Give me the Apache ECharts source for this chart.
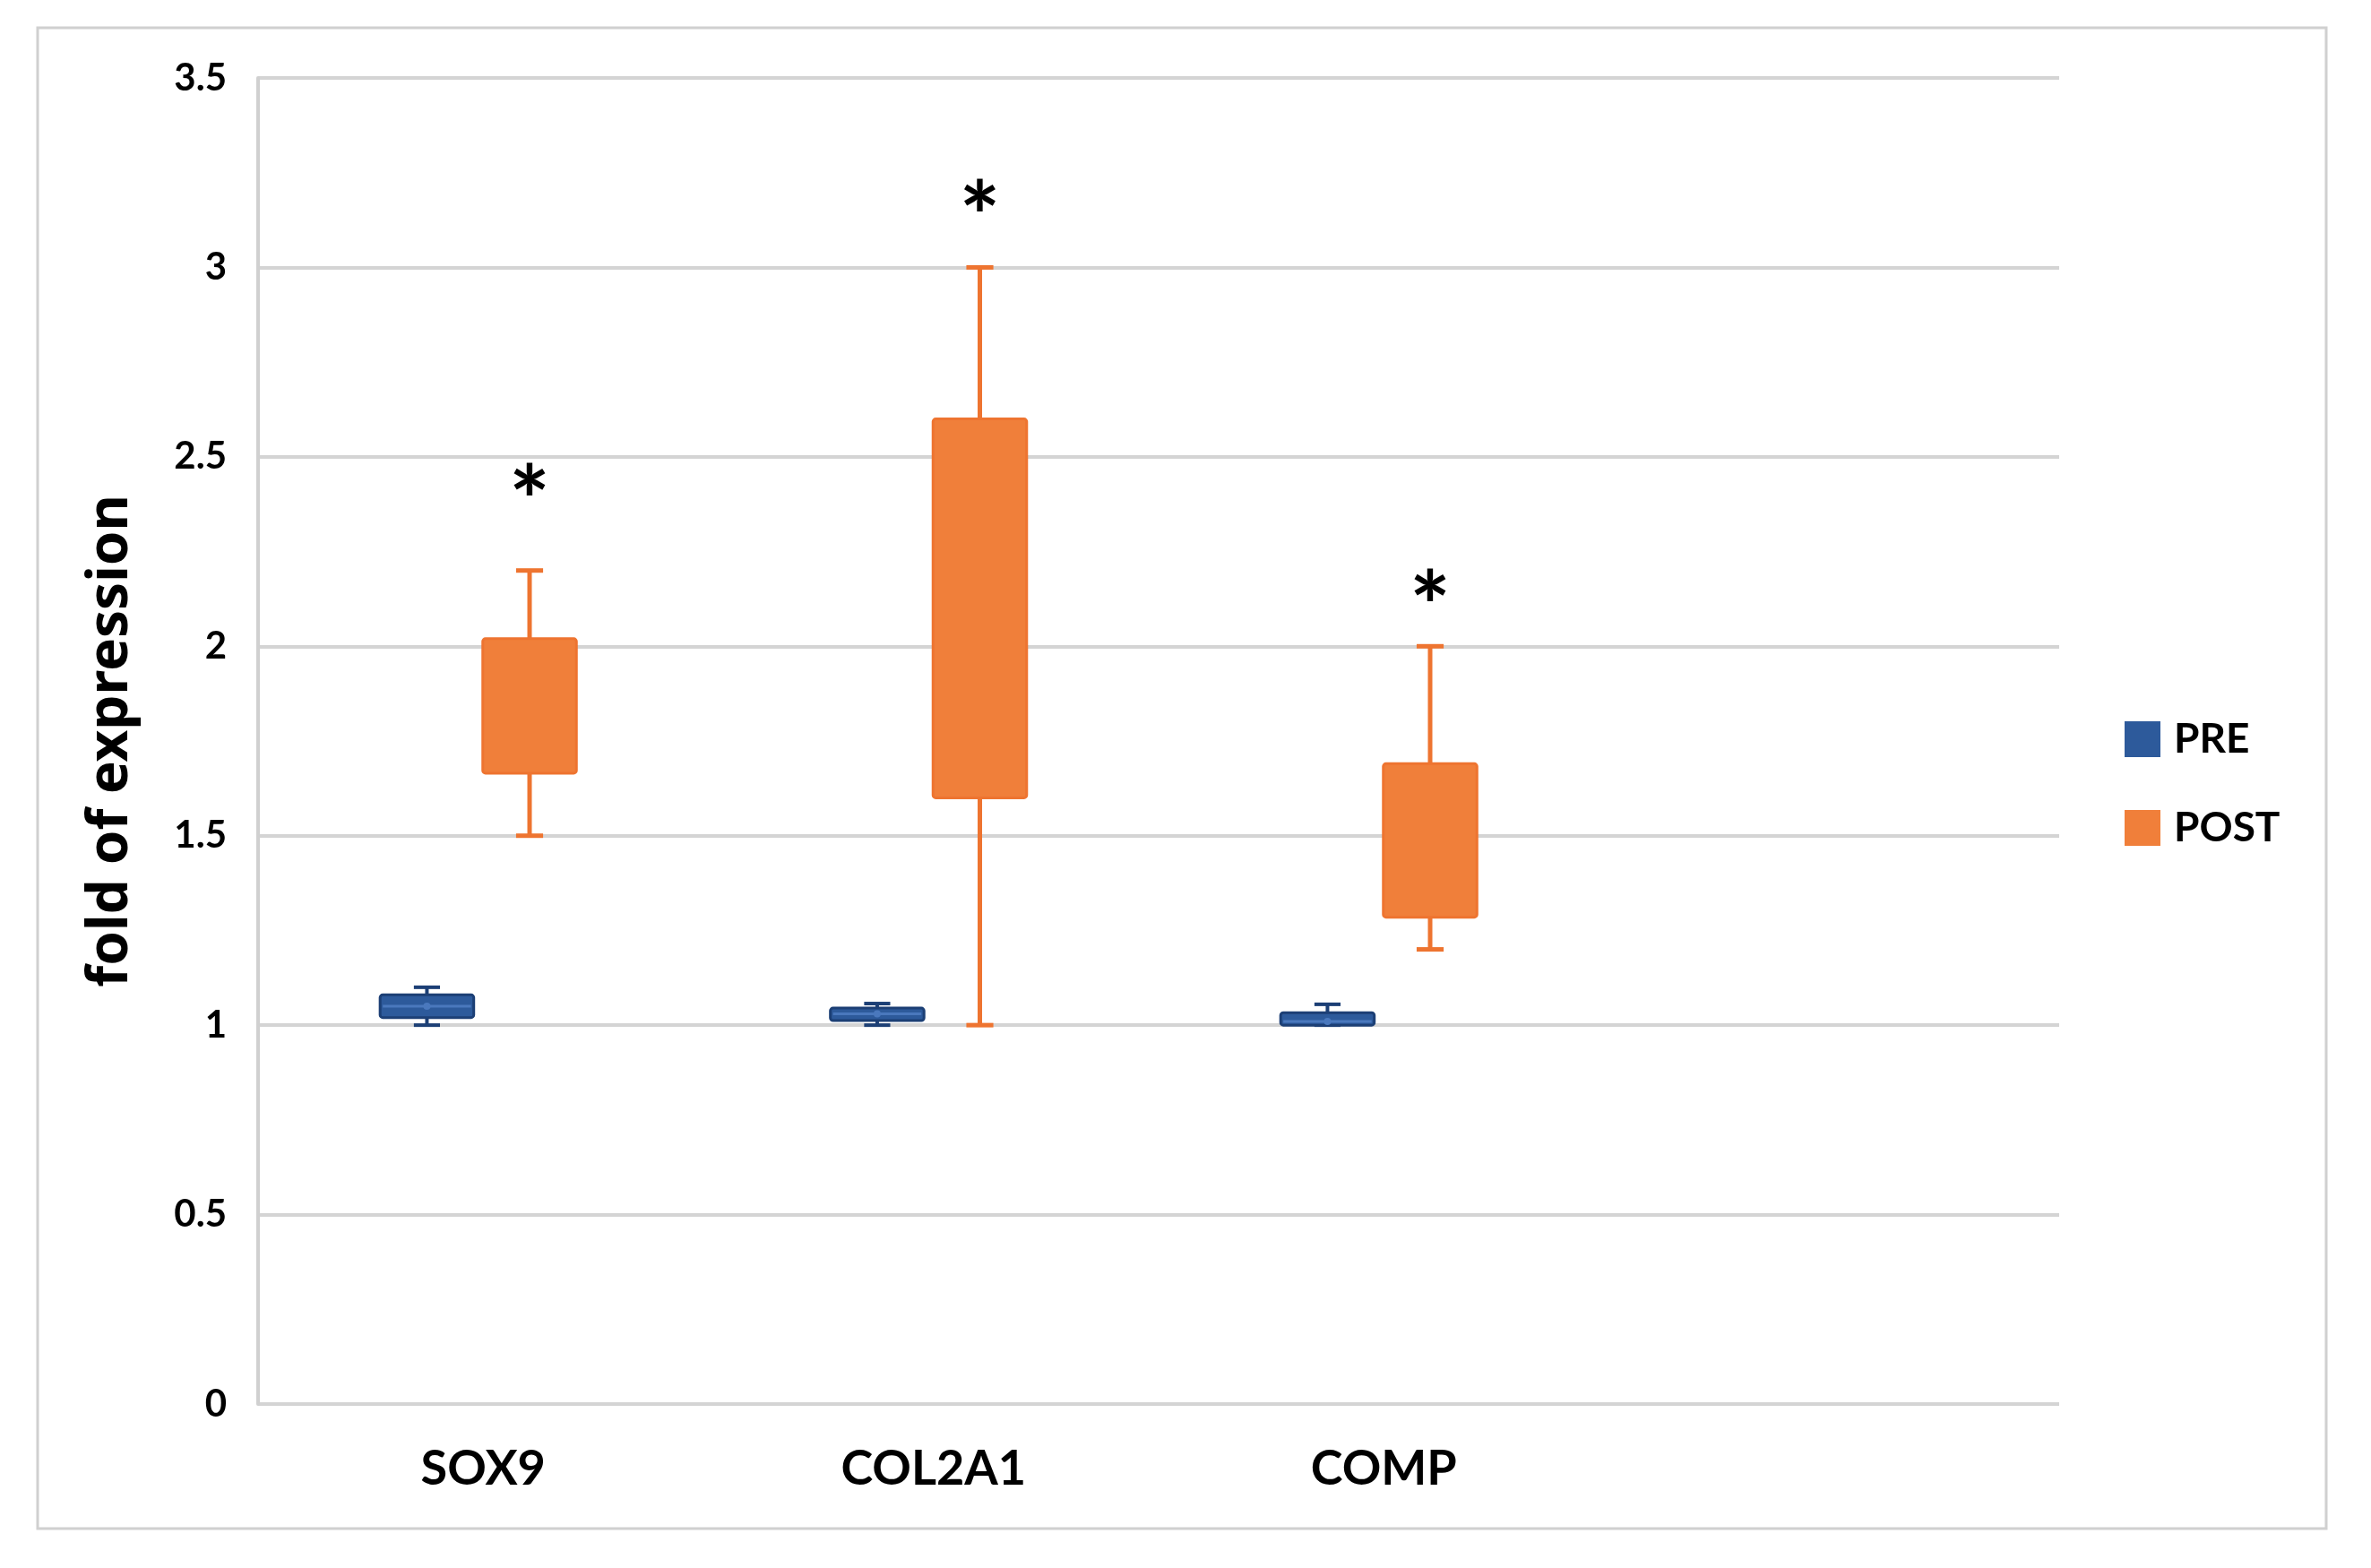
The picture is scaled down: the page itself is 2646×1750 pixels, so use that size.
<!DOCTYPE html>
<html>
<head>
<meta charset="utf-8">
<script src="https://cdn.jsdelivr.net/npm/echarts@6/dist/echarts.min.js"></script>
<style>
html,body{margin:0;padding:0;background:#fff;}
#chart{width:2646px;height:1750px;}
</style>
</head>
<body>
<div id="chart"></div>
<script>
// ---- data ----
const categories = ['SOX9', 'COL2A1', 'COMP', ''];
const yTicks = [0, 0.5, 1, 1.5, 2, 2.5, 3, 3.5];
const seriesNames = ['PRE', 'POST'];

const preMin    = [1.00, 1.00, 1.00];
const preQ1     = [1.02, 1.012, 1.00];
const preMedian = [1.05, 1.03, 1.01];
const preQ3     = [1.08, 1.045, 1.033];
const preMax    = [1.10, 1.057, 1.055];

const postMin = [1.50, 1.00, 1.20];
const postQ1  = [1.665, 1.60, 1.285];
const postQ3  = [2.02, 2.60, 1.69];
const postMax = [2.20, 3.00, 2.00];

const starLabel = ['*', '*', '*'];
const starValue = [2.42, 3.17, 2.14];

// ---- build ----
const FONT = 'Lato, "Open Sans", sans-serif';
const STAR_SIZE = 108;

function boxRows(mins, q1s, meds, q3s, maxs) {
  return mins.map((m, i) => [i, m, q1s[i], meds ? meds[i] : null, q3s[i], maxs[i]]);
}

function makeBoxSeries(name, rows, offsetFrac, fill, stroke, medColor, lw, capFrac) {
  return {
    name: name,
    type: 'custom',
    itemStyle: { color: fill },
    encode: { x: 0, y: [1, 2, 4, 5] },
    data: rows,
    z: 3,
    renderItem: function (params, api) {
      const cat = api.value(0);
      const band = api.size([1, 0])[0];
      const cx = api.coord([cat, 0])[0] + offsetFrac * band;
      const w = 0.208 * band;
      const cap = capFrac * band;
      const yMin = api.coord([cat, api.value(1)])[1];
      const yQ1 = api.coord([cat, api.value(2)])[1];
      const yQ3 = api.coord([cat, api.value(4)])[1];
      const yMax = api.coord([cat, api.value(5)])[1];
      const lineStyle = { stroke: stroke, lineWidth: lw };
      const children = [
        { type: 'line', shape: { x1: cx, y1: yMax, x2: cx, y2: yQ3 }, style: lineStyle },
        { type: 'line', shape: { x1: cx, y1: yQ1, x2: cx, y2: yMin }, style: lineStyle },
        { type: 'line', shape: { x1: cx - cap / 2, y1: yMax, x2: cx + cap / 2, y2: yMax }, style: lineStyle },
        { type: 'line', shape: { x1: cx - cap / 2, y1: yMin, x2: cx + cap / 2, y2: yMin }, style: lineStyle },
        { type: 'rect', shape: { x: cx - w / 2, y: yQ3, width: w, height: Math.max(yQ1 - yQ3, 2), r: 3 },
          style: { fill: fill, stroke: stroke, lineWidth: 3 } }
      ];
      const med = api.value(3);
      if (med !== null && !isNaN(med)) {
        const yMed = api.coord([cat, med])[1];
        children.push({ type: 'line', shape: { x1: cx - w / 2 + 3, y1: yMed, x2: cx + w / 2 - 3, y2: yMed },
          style: { stroke: medColor, lineWidth: 3 } });
        children.push({ type: 'circle', shape: { cx: cx, cy: yMed, r: 4 }, style: { fill: medColor } });
      }
      return { type: 'group', children: children };
    }
  };
}

const preRows = boxRows(preMin, preQ1, preMedian, preQ3, preMax);
const postRows = boxRows(postMin, postQ1, null, postQ3, postMax);
const starRows = starValue.map((v, i) => [i, v, starLabel[i]]);

const chart = echarts.init(document.getElementById('chart'), null, { renderer: 'canvas' });

const option = {
  backgroundColor: '#ffffff',
  animation: false,
  graphic: [{
    type: 'rect',
    shape: { x: 42, y: 31, width: 2554, height: 1675 },
    style: { fill: 'none', stroke: '#d0d0d0', lineWidth: 3 },
    silent: true
  }],
  legend: {
    data: seriesNames,
    orient: 'vertical',
    left: 2366,
    top: 797,
    icon: 'rect',
    itemWidth: 40,
    itemHeight: 40,
    itemGap: 53,
    textStyle: { fontFamily: FONT, fontWeight: 'bold', fontSize: 46, color: '#000', padding: [0, 0, 0, 10] }
  },
  grid: { left: 288, right: 348, top: 87, bottom: 183, containLabel: false },
  xAxis: {
    type: 'category',
    data: categories,
    boundaryGap: true,
    axisLine: { show: false },
    axisTick: { show: false },
    splitLine: { show: false },
    axisLabel: { fontFamily: FONT, fontWeight: 'bold', fontSize: 54, color: '#000', margin: 46, interval: 0 }
  },
  yAxis: {
    type: 'value',
    min: 0,
    max: 3.5,
    interval: 0.5,
    name: 'fold of expression',
    nameLocation: 'middle',
    nameRotate: 90,
    nameGap: 133,
    nameTextStyle: { fontFamily: '"Noto Sans", sans-serif', fontWeight: 'bold', fontSize: 62, color: '#000' },
    axisLine: { show: true, lineStyle: { color: '#d0d0d0', width: 4 } },
    axisTick: { show: false },
    splitLine: { show: true, lineStyle: { color: '#d4d4d4', width: 4 } },
    axisLabel: {
      fontFamily: FONT, fontWeight: 'bold', fontSize: 42, color: '#000', margin: 35,
      formatter: function (v) { return String(v); }
    }
  },
  series: [
    makeBoxSeries('PRE', preRows, -0.125, '#2d5a9b', '#1c3f75', '#4a78bd', 4, 0.058),
    makeBoxSeries('POST', postRows, 0.103, '#f07f3a', '#ee7430', '#f07f3a', 5, 0.06),
    {
      name: 'stars',
      type: 'custom',
      data: starRows,
      encode: { x: 0, y: 1 },
      z: 4,
      renderItem: function (params, api) {
        const cat = api.value(0);
        const band = api.size([1, 0])[0];
        const p = api.coord([cat, api.value(1)]);
        return {
          type: 'text',
          x: p[0] + 0.103 * band,
          y: p[1] - 0.32 * STAR_SIZE,
          style: {
            text: starRows[params.dataIndex][2],
            fontFamily: FONT, fontWeight: 'bold', fontSize: STAR_SIZE, fill: '#000',
            align: 'center', verticalAlign: 'top'
          }
        };
      }
    }
  ]
};
chart.setOption(option);
</script>
</body>
</html>
